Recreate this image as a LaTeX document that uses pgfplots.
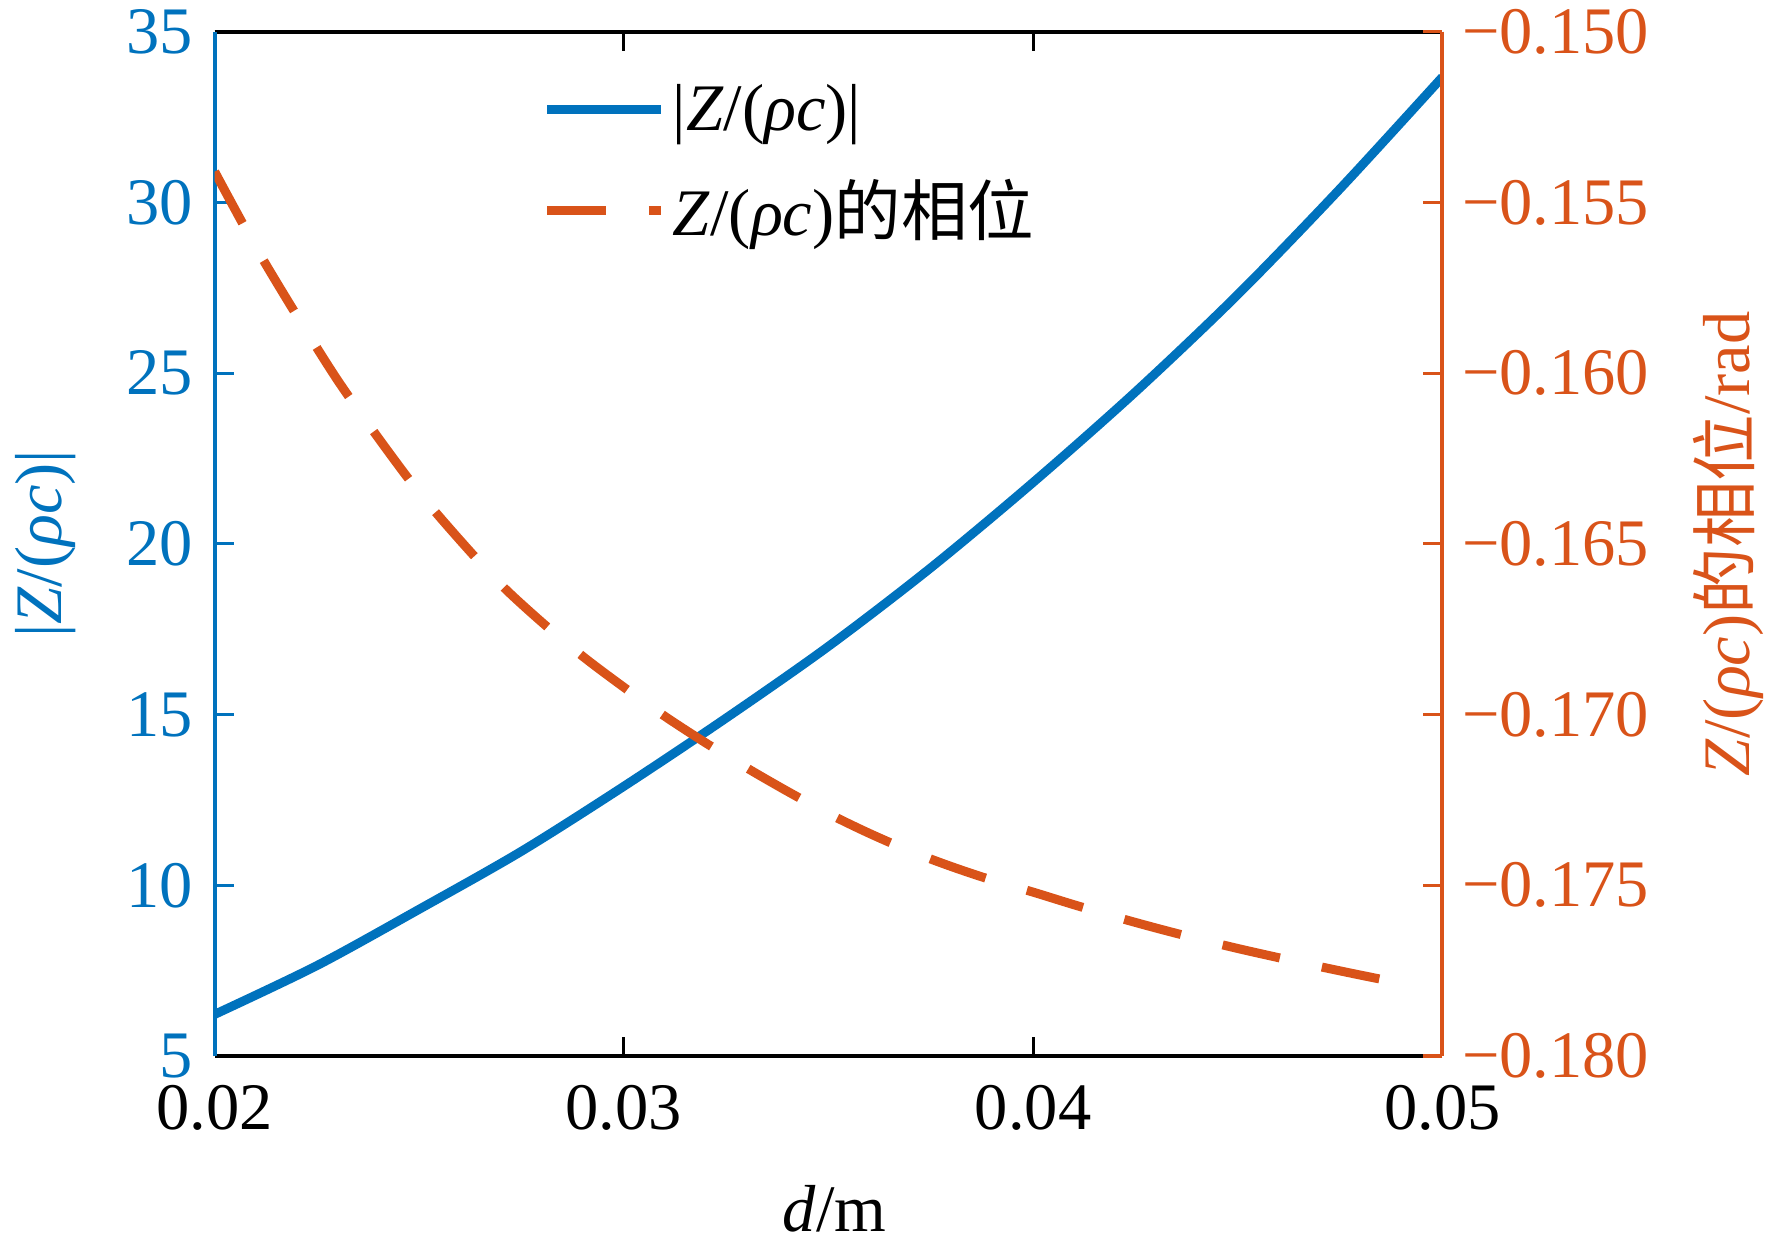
\documentclass[border=0pt]{standalone}
\usepackage{fontspec}
\setmainfont{Liberation Serif}
\newfontfamily\cjk{Noto Sans CJK SC}
\usepackage{pgfplots}
\pgfplotsset{compat=1.18}
\definecolor{mblue}{rgb}{0,0.447,0.741}
\definecolor{morange}{rgb}{0.85,0.325,0.098}
\newcommand{\fs}{\fontsize{17}{20}\selectfont}
\newcommand{\Zrc}{\textit{Z}/(\textit{ρc})}

\pgfplotstableread{
x y
0.0200 6.22
0.0225 7.65
0.0250 9.30
0.0275 11.00
0.0300 12.90
0.0325 14.90
0.0350 17.00
0.0375 19.30
0.0400 21.80
0.0425 24.45
0.0450 27.30
0.0475 30.40
0.0500 33.67
}\magdata

\pgfplotstableread{
x y
0.0200 -0.15410
0.0210 -0.15630
0.0220 -0.15830
0.0230 -0.16020
0.0240 -0.16190
0.0250 -0.16350
0.0260 -0.16490
0.0270 -0.16620
0.0280 -0.16730
0.0290 -0.16830
0.0300 -0.16920
0.0310 -0.17005
0.0320 -0.17083
0.0330 -0.17156
0.0340 -0.17225
0.0350 -0.17290
0.0360 -0.17348
0.0370 -0.17400
0.0380 -0.17445
0.0390 -0.17485
0.0400 -0.17520
0.0410 -0.17557
0.0420 -0.17592
0.0430 -0.17625
0.0440 -0.17656
0.0450 -0.17685
0.0460 -0.17712
0.0470 -0.17738
0.0480 -0.17763
0.0490 -0.17787
}\phasedata

\begin{document}
\begin{tikzpicture}
\begin{axis}[
  name=ax,
  scale only axis, width=314pt, height=262pt,
  xmin=0.02, xmax=0.05, ymin=5, ymax=35,
  scaled x ticks=false, scaled y ticks=false,
  axis x line*=box, axis y line*=left,
  xtick={0.02,0.03,0.04,0.05}, xticklabels={0.02,0.03,0.04,0.05},
  xtick pos=both, xticklabel pos=lower,
  ytick={5,10,15,20,25,30,35},
  tick align=inside,
  major tick length=5pt,
  x axis line style={black, line width=1pt, -},
  y axis line style={mblue, line width=1pt, -},
  ytick style={mblue, line width=0.8pt},
  xtick style={black, line width=0.8pt},
  yticklabel style={mblue, font=\fs, xshift=-2pt},
  xticklabel style={black, font=\fs, yshift=-4pt},
  /pgf/number format/assume math mode=true,
  xlabel={\textit{d}/m}, ylabel={|\Zrc|},
  xlabel style={font=\fs, at={(axis description cs:0.505,-0.149)}, anchor=center},
  ylabel style={font=\fs, text=mblue, at={(axis description cs:-0.138,0.5)}, anchor=center},
  legend style={at={(axis description cs:0.257,0.965)}, anchor=north west, draw=none, fill=none, font=\fs, row sep=7pt},
  legend cell align=left,
  legend image code/.code={\draw[#1] (0pt,0pt) -- (29pt,0pt);},
]
\addplot[mblue, line width=2.3pt, smooth] table[x=x,y=y]{\magdata};
\addlegendentry{|\Zrc|}
\addlegendimage{morange, line width=2.3pt, dash pattern=on 15pt off 11pt}
\addlegendentry{\Zrc{\cjk 的相位}}
\end{axis}
\begin{axis}[
  scale only axis, width=314pt, height=262pt,
  xmin=0.02, xmax=0.05, ymin=-0.18, ymax=-0.15,
  scaled x ticks=false, scaled y ticks=false,
  axis x line=none, axis y line*=right,
  ytick={-0.18,-0.175,-0.17,-0.165,-0.16,-0.155,-0.15},
  yticklabels={−0.180,−0.175,−0.170,−0.165,−0.160,−0.155,−0.150},
  tick align=inside,
  major tick length=5pt,
  y axis line style={morange, line width=1pt, -},
  ytick style={morange, line width=0.8pt},
  yticklabel style={text=morange, font=\fs, xshift=1.5pt},
  ylabel={\Zrc{\cjk 的相位}/rad},
  ylabel style={font=\fs, text=morange, at={(axis description cs:1.233,0.5)}, anchor=center},
]
\addplot[morange, line width=2.3pt, smooth, dash pattern=on 15pt off 11pt] table[x=x,y=y]{\phasedata};
\end{axis}
\pgfresetboundingbox
\path[use as bounding box] ([shift={(-54.9pt,-49.4pt)}]ax.south west) rectangle ([shift={(84.3pt,8.1pt)}]ax.north east);
\end{tikzpicture}
\end{document}
